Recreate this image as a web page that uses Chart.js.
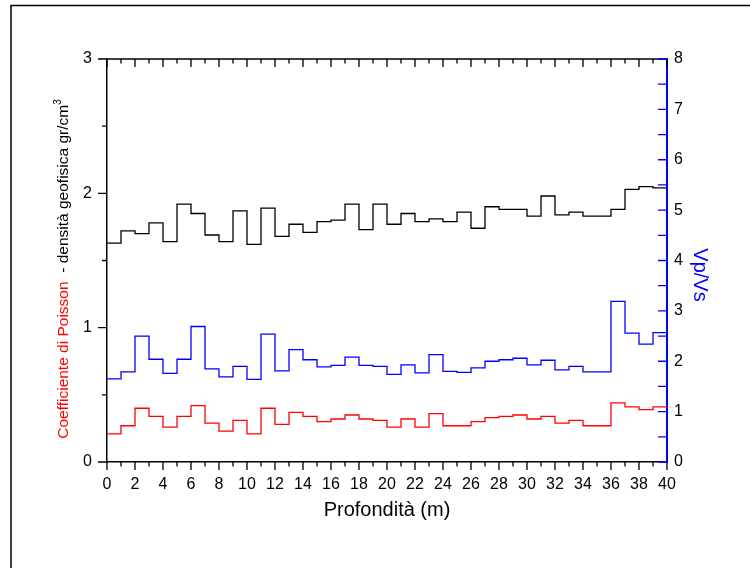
<!DOCTYPE html>
<html lang="it">
<head>
  <meta charset="UTF-8" />
  <title>Profilo Poisson / densità / Vp/Vs</title>
  <script src="https://cdn.jsdelivr.net/npm/chart.js@4.4.1/dist/chart.umd.min.js"></script>
  <style>
    html, body { margin: 0; padding: 0; background: #fff; }
    #wrap { width: 750px; height: 568px; position: relative; }
  </style>
</head>
<body>
  <div id="wrap"><canvas id="profChart" width="750" height="568"></canvas></div>

  <script>
    // profondità (m): inizio di ogni strato, l'ultimo punto chiude a 40 m
    const depth = [0, 1, 2, 3, 4, 5, 6, 7, 8, 9, 10, 11, 12, 13, 14, 15, 16, 17, 18, 19,
      20, 21, 22, 23, 24, 25, 26, 27, 28, 29, 30, 31, 32, 33, 34, 35, 36, 37, 38, 39, 40];

    // densità geofisica gr/cm3 (asse sinistro)
    const density = [1.63, 1.72, 1.70, 1.78, 1.64, 1.92, 1.85, 1.69, 1.64, 1.87,
      1.62, 1.89, 1.68, 1.77, 1.71, 1.79, 1.80, 1.92, 1.73, 1.92,
      1.77, 1.85, 1.79, 1.81, 1.79, 1.86, 1.74, 1.90, 1.88, 1.88,
      1.83, 1.98, 1.84, 1.86, 1.83, 1.83, 1.88, 2.03, 2.05, 2.04, 2.04];

    // coefficiente di Poisson (asse sinistro)
    const poisson = [0.21, 0.27, 0.40, 0.34, 0.26, 0.34, 0.42, 0.29, 0.23, 0.31,
      0.21, 0.40, 0.28, 0.37, 0.34, 0.30, 0.32, 0.35, 0.32, 0.31,
      0.26, 0.32, 0.26, 0.36, 0.27, 0.27, 0.30, 0.33, 0.34, 0.35,
      0.32, 0.34, 0.29, 0.31, 0.27, 0.27, 0.44, 0.41, 0.39, 0.41, 0.41];

    // Vp/Vs (asse destro)
    const vpvs = [1.65, 1.79, 2.50, 2.04, 1.76, 2.04, 2.69, 1.85, 1.69, 1.90,
      1.64, 2.54, 1.81, 2.23, 2.03, 1.89, 1.92, 2.08, 1.92, 1.90,
      1.74, 1.93, 1.77, 2.13, 1.80, 1.78, 1.87, 2.00, 2.03, 2.06,
      1.93, 2.02, 1.83, 1.90, 1.79, 1.79, 3.19, 2.56, 2.34, 2.57, 2.57];

    const FONT = "'Liberation Sans', Arial, sans-serif";

    function toPoints(values) {
      return depth.map((d, i) => ({ x: d, y: values[i] }));
    }

    // tacche principali e secondarie + titoli degli assi
    const axisDecor = {
      id: "axisDecor",
      afterDraw(chart) {
        const ctx = chart.ctx;
        const a = chart.chartArea;
        const x = chart.scales.x, y = chart.scales.y, y1 = chart.scales.y1;
        ctx.save();

        // cornice esterna
        ctx.strokeStyle = "#000";
        ctx.lineWidth = 1.5;
        ctx.beginPath();
        ctx.moveTo(11, 568);
        ctx.lineTo(11, 5.5);
        ctx.lineTo(750, 5.5);
        ctx.stroke();

        // asse superiore
        ctx.beginPath();
        ctx.moveTo(a.left, a.top);
        ctx.lineTo(a.right, a.top);
        ctx.stroke();

        ctx.lineWidth = 1.3;
        ctx.beginPath();
        for (let v = 0; v <= 40; v++) {
          const px = x.getPixelForValue(v);
          const len = v % 2 === 0 ? 8 : 4.5;
          ctx.moveTo(px, a.bottom);
          ctx.lineTo(px, a.bottom + len);
          ctx.moveTo(px, a.top);
          ctx.lineTo(px, a.top + len);
        }
        for (let v = 0; v <= 3; v += 0.5) {
          const py = y.getPixelForValue(v);
          const len = Number.isInteger(v) ? 9 : 5;
          ctx.moveTo(a.left, py);
          ctx.lineTo(a.left - len, py);
        }
        ctx.stroke();

        ctx.strokeStyle = "#0000ff";
        ctx.beginPath();
        for (let v = 0; v <= 8; v += 0.5) {
          const py = y1.getPixelForValue(v);
          ctx.moveTo(a.right, py);
          ctx.lineTo(a.right - 9, py);
        }
        ctx.stroke();

        // titolo asse x
        ctx.fillStyle = "#000";
        ctx.font = "20px " + FONT;
        ctx.textAlign = "center";
        ctx.textBaseline = "middle";
        ctx.fillText("Profondità (m)", (a.left + a.right) / 2, 510);

        // titolo asse sinistro (due colori + apice)
        const part1 = "Coefficiente di Poisson";
        const part2 = "  - densità geofisica gr/cm";
        const sup = "3";
        const fs = 15.5;
        ctx.font = fs + "px " + FONT;
        const w1 = ctx.measureText(part1).width;
        const w2 = ctx.measureText(part2).width;
        ctx.font = "10px " + FONT;
        const w3 = ctx.measureText(sup).width;
        const total = w1 + w2 + w3;
        ctx.translate(68, 269);
        ctx.rotate(-Math.PI / 2);
        ctx.textAlign = "left";
        ctx.textBaseline = "alphabetic";
        let cx = -total / 2;
        ctx.font = fs + "px " + FONT;
        ctx.fillStyle = "#ff0000";
        ctx.fillText(part1, cx, 0);
        cx += w1;
        ctx.fillStyle = "#000";
        ctx.fillText(part2, cx, 0);
        cx += w2;
        ctx.font = "10px " + FONT;
        ctx.fillText(sup, cx, -7);
        ctx.setTransform(1, 0, 0, 1, 0, 0);

        // titolo asse destro
        ctx.translate(700, 275);
        ctx.rotate(Math.PI / 2);
        ctx.font = "20px " + FONT;
        ctx.fillStyle = "#0000ff";
        ctx.textAlign = "center";
        ctx.textBaseline = "middle";
        ctx.fillText("Vp/Vs", 0, 0);
        ctx.restore();
      }
    };

    const lineStyle = {
      stepped: "before",
      pointRadius: 0,
      borderWidth: 1.3,
      fill: false,
    };

    new Chart(document.getElementById("profChart").getContext("2d"), {
      type: "line",
      data: {
        datasets: [
          { label: "densità", data: toPoints(density), borderColor: "#000000", yAxisID: "y", ...lineStyle },
          { label: "Poisson", data: toPoints(poisson), borderColor: "#ff0000", yAxisID: "y", ...lineStyle },
          { label: "Vp/Vs", data: toPoints(vpvs), borderColor: "#0000ff", yAxisID: "y1", ...lineStyle },
        ],
      },
      options: {
        responsive: false,
        animation: false,
        layout: { padding: { top: 59, left: 0, right: 0, bottom: 0 } },
        plugins: {
          legend: { display: false },
          tooltip: { enabled: false },
        },
        scales: {
          x: {
            type: "linear",
            position: "bottom",
            min: 0,
            max: 40,
            grid: { display: false, drawTicks: false },
            border: { display: true, color: "#000", width: 1.5 },
            ticks: { stepSize: 2, color: "#000", padding: 13, maxRotation: 0, font: { family: FONT, size: 16 } },
            afterFit(s) { s.height = 106; },
          },
          y: {
            position: "left",
            min: 0,
            max: 3,
            grid: { display: false, drawTicks: false },
            border: { display: true, color: "#000", width: 1.5 },
            ticks: { stepSize: 1, color: "#000", padding: 15, font: { family: FONT, size: 16 } },
            afterFit(s) { s.width = 107; },
          },
          y1: {
            position: "right",
            min: 0,
            max: 8,
            grid: { display: false, drawTicks: false },
            border: { display: true, color: "#0000ff", width: 2 },
            ticks: { stepSize: 1, color: "#000", padding: 7, font: { family: FONT, size: 16 } },
            afterFit(s) { s.width = 83; },
          },
        },
      },
      plugins: [axisDecor],
    });
  </script>
</body>
</html>
